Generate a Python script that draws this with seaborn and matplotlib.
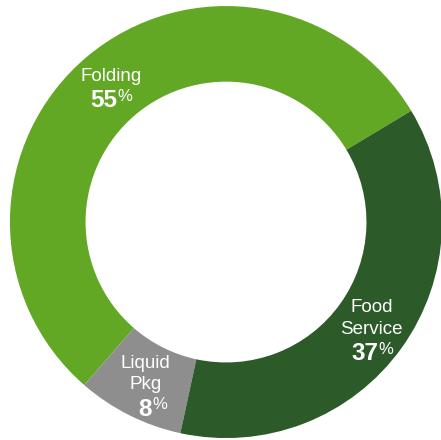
import numpy as np
import seaborn as sns
import matplotlib.pyplot as plt

labels = ['Folding', 'Liquid\nPkg', 'Food\nService']
shares = [55, 8, 37]
colors = ['#62a825', '#8e8e8e', '#2c5a28']

sns.set_style('white')
plt.rcParams['font.family'] = ['Liberation Sans', 'DejaVu Sans']

fig = plt.figure(figsize=(4.41, 4.40), dpi=100)
ax = fig.add_axes([0, 0, 1, 1])

start = 31
wedges, _ = ax.pie(shares, colors=colors, startangle=start, counterclock=True,
                   wedgeprops=dict(width=0.35, linewidth=0))

cum = start
for lab, val in zip(labels, shares):
    mid = np.deg2rad(cum + val * 3.6 / 2)
    cum += val * 3.6
    cx, cy = 0.83 * np.cos(mid), 0.83 * np.sin(mid)
    lines = lab.split('\n')
    n = len(lines)
    step = 0.1
    total = (n - 1) * step + 0.112
    y0 = cy + total / 2 - 0.018
    for i, ln in enumerate(lines):
        ax.text(cx, y0 - i * step, ln, ha='center', va='center',
                color='white', fontsize=13.5)
    yp = y0 - (n - 1) * step - 0.112
    ax.annotate(str(val), (cx, yp), xytext=(4.5, 0), textcoords='offset points',
                ha='right', va='center', color='white', fontsize=17.5,
                fontweight='bold')
    ax.annotate('%', (cx, yp), xytext=(4.5, 3), textcoords='offset points',
                ha='left', va='center', color='white', fontsize=12)

ax.set_xlim(-1.046, 0.995)
ax.set_ylim(-1.009, 1.028)
ax.set_aspect('equal', adjustable='datalim')
ax.axis('off')

fig.savefig('out.png', dpi=100)
